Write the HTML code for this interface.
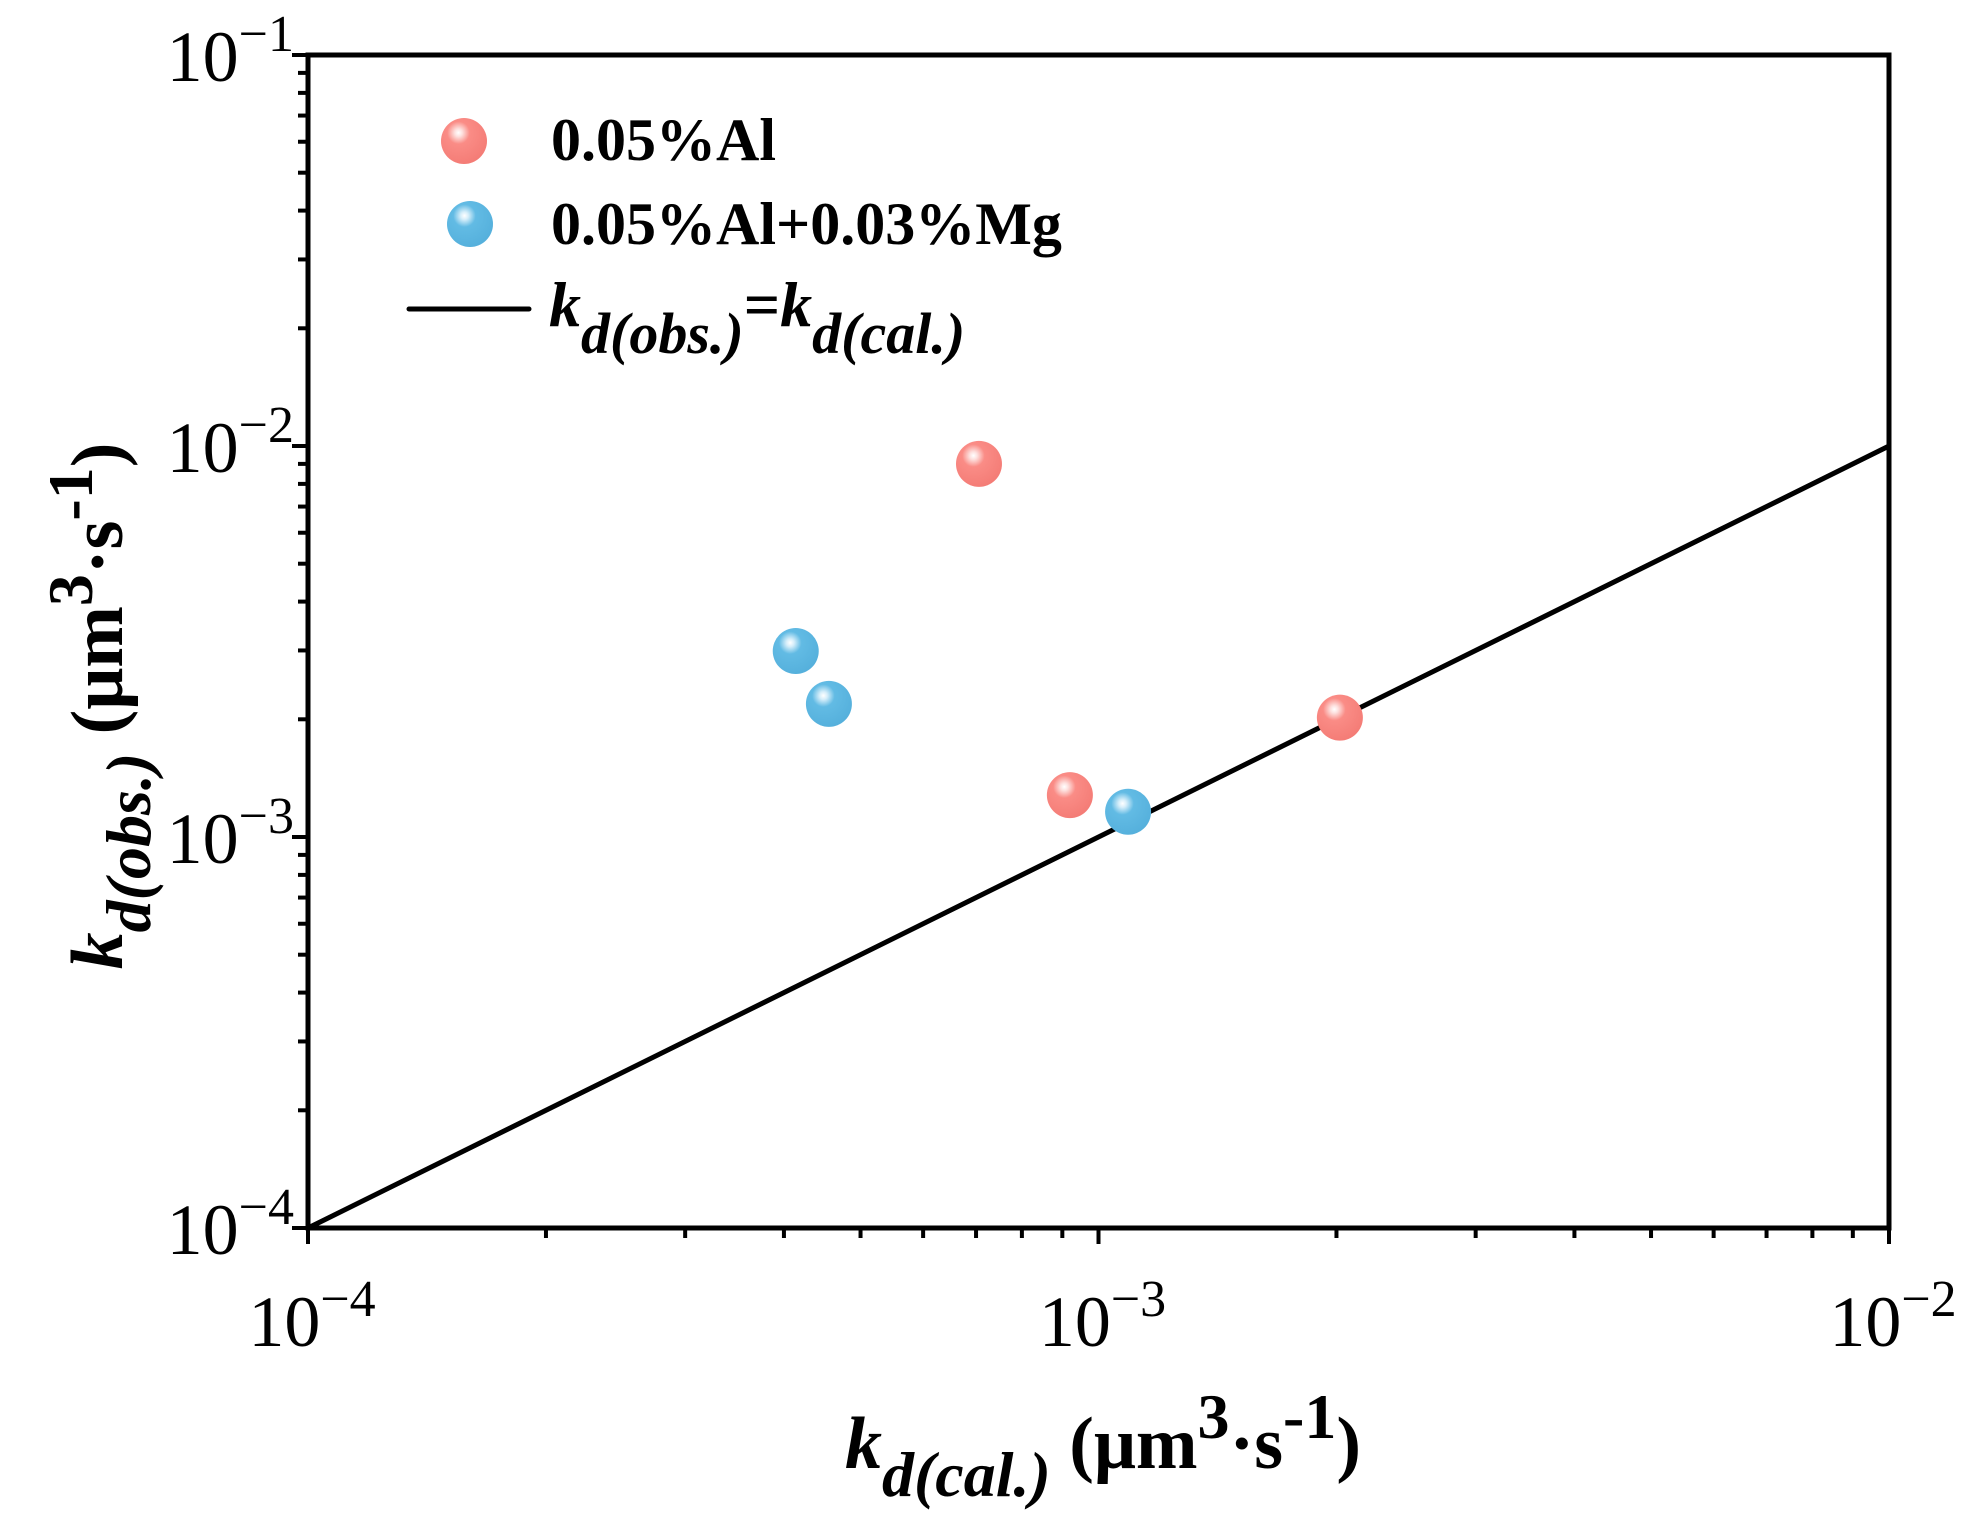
<!DOCTYPE html>
<html><head><meta charset="utf-8"><style>
html,body{margin:0;padding:0;background:#fff;}
svg{display:block;font-family:"Liberation Serif",serif;}
</style></head><body>
<svg id="chart" width="1966" height="1527" viewBox="0 0 1966 1527" xmlns="http://www.w3.org/2000/svg">
<defs>
<radialGradient id="gRed" cx="0.38" cy="0.32" r="0.7">
<stop offset="0" stop-color="#ffffff"/><stop offset="0.12" stop-color="#fde0de"/><stop offset="0.35" stop-color="#fa8c86"/><stop offset="1" stop-color="#f47c76"/>
</radialGradient>
<radialGradient id="gBlue" cx="0.38" cy="0.32" r="0.7">
<stop offset="0" stop-color="#ffffff"/><stop offset="0.12" stop-color="#d6eefa"/><stop offset="0.35" stop-color="#62bbe4"/><stop offset="1" stop-color="#55b0dc"/>
</radialGradient>
</defs>
<g id="axes"></g>
<g id="marks"></g>
<g id="legend">
<circle cx="464" cy="141" r="23" fill="url(#gRed)"/>
<text x="551" y="160" font-size="60" font-weight="bold">0.05%Al</text>
<circle cx="470" cy="224" r="23" fill="url(#gBlue)"/>
<text x="551" y="244" font-size="60" font-weight="bold">0.05%Al+0.03%Mg</text>
<line x1="409" y1="309" x2="529" y2="309" stroke="#000" stroke-width="5" stroke-linecap="round"/>
<text x="549" y="326" font-size="64" font-style="italic" font-weight="bold">k<tspan dy="27" font-size="58">d(obs.)</tspan><tspan dy="-27" font-style="normal">=</tspan>k<tspan dy="27" font-size="58">d(cal.)</tspan></text>
</g>
<text x="1103" y="1468" text-anchor="middle" font-size="74" font-weight="bold"><tspan font-style="italic">k</tspan><tspan font-style="italic" dy="28" font-size="64">d(cal.)</tspan><tspan dy="-28"> (μm</tspan><tspan dy="-30" font-size="64">3</tspan><tspan dy="30">·s</tspan><tspan dy="-30" font-size="64">-1</tspan><tspan dy="30">)</tspan></text>
<text transform="translate(122,706) rotate(-90)" text-anchor="middle" font-size="74" font-weight="bold"><tspan font-style="italic">k</tspan><tspan font-style="italic" dy="28" font-size="64">d(obs.)</tspan><tspan dy="-28"> (μm</tspan><tspan dy="-30" font-size="64">3</tspan><tspan dy="30">·s</tspan><tspan dy="-30" font-size="64">-1</tspan><tspan dy="30">)</tspan></text>
</svg>
<script>
const xTickExps = [-4, -3, -2];
const yTickExps = [-4, -3, -2, -1];
const alX = [7.06e-4, 9.2e-4, 2.02e-3];
const alY = [9.0e-3, 1.28e-3, 2.02e-3];
const mgX = [4.14e-4, 4.56e-4, 1.09e-3];
const mgY = [2.99e-3, 2.19e-3, 1.16e-3];
const refLine = [1e-4, 1e-2];

const L=308,R=1889,T=55,B=1228;
const xMin=-4,xMax=-2,yMin=-4,yMax=-1;
const sx=v=>L+(Math.log10(v)-xMin)/(xMax-xMin)*(R-L);
const sy=v=>B-(Math.log10(v)-yMin)/(yMax-yMin)*(B-T);
const NS="http://www.w3.org/2000/svg";
function mk(tag,attrs,parent){const e=document.createElementNS(NS,tag);for(const k in attrs)e.setAttribute(k,attrs[k]);parent.appendChild(e);return e;}
const axes=document.getElementById('axes'), marks=document.getElementById('marks');

const rl=mk('line',{x1:sx(refLine[0]),y1:sy(refLine[0]),x2:sx(refLine[1]),y2:sy(refLine[1]),stroke:'#000','stroke-width':5},marks);



const fr=mk('rect',{x:L,y:T,width:R-L,height:B-T,fill:'none',stroke:'#000','stroke-width':5},axes);



for(let e=xMin;e<=xMax;e++){
  for(let m=1;m<=9;m++){
    if(e===xMax&&m>1)break;
    const v=m*Math.pow(10,e),x=sx(v),len=m===1?16:10;
    const t=mk('line',{x1:x,y1:B,x2:x,y2:B+len,stroke:'#000','stroke-width':4},axes);
    
    
  }
}
xTickExps.forEach(e=>{
  const t=mk('text',{x:sx(Math.pow(10,e))+4,y:1346,'text-anchor':'middle','font-size':72},axes);
  
  
  t.innerHTML='10<tspan dy="-30" font-size="52">−'+Math.abs(e)+'</tspan>';
});
for(let e=yMin;e<=yMax;e++){
  for(let m=1;m<=9;m++){
    if(e===yMax&&m>1)break;
    const v=m*Math.pow(10,e),y=sy(v),len=m===1?16:10;
    const t=mk('line',{x1:L-len,y1:y,x2:L,y2:y,stroke:'#000','stroke-width':4},axes);
    
    
  }
}
yTickExps.forEach(e=>{
  const t=mk('text',{x:294,y:sy(Math.pow(10,e))+26,'text-anchor':'end','font-size':72},axes);
  
  
  t.innerHTML='10<tspan dy="-30" font-size="52">−'+Math.abs(e)+'</tspan>';
});
alX.forEach((v,i)=>{
  const c=mk('circle',{cx:sx(v),cy:sy(alY[i]),r:23,fill:'url(#gRed)'},marks);
  
  
});
mgX.forEach((v,i)=>{
  const c=mk('circle',{cx:sx(v),cy:sy(mgY[i]),r:23,fill:'url(#gBlue)'},marks);
  
  
});
</script>
</body></html>
